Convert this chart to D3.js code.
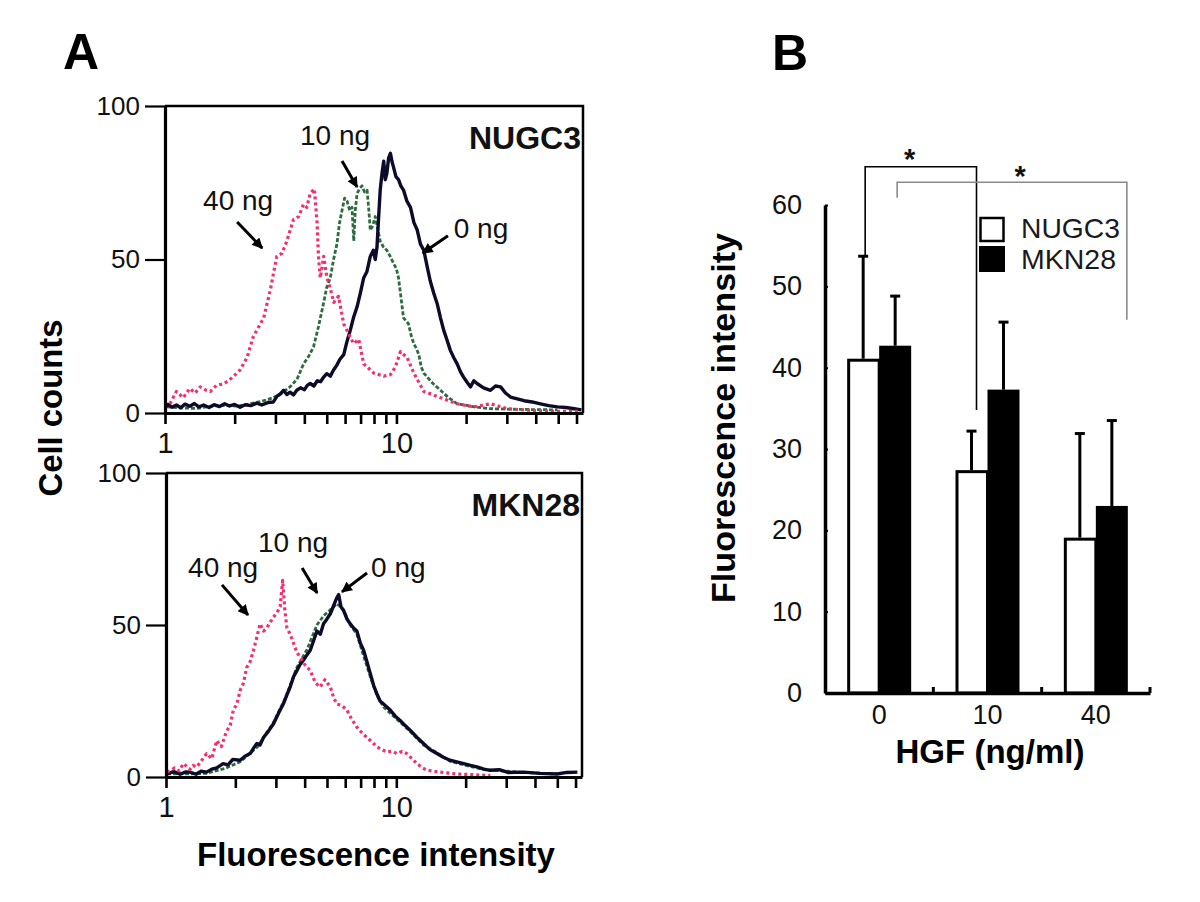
<!DOCTYPE html>
<html><head><meta charset="utf-8">
<script src="https://cdn.jsdelivr.net/npm/d3@7"></script>
<style>
body{margin:0;background:#fff}
svg{display:block}
text{font-family:"Liberation Sans",Arial,Helvetica,sans-serif}
</style>
</head><body>
<svg id="chart" width="1200" height="902"></svg>
<script>
// ---------------- DATA ----------------
// Panel A: flow-cytometry histograms, [fluorescence intensity, cell count]
const nugc3_0ng = [[1.00,2.0],[1.03,2.8],[1.07,1.9],[1.12,2.6],[1.17,1.7],[1.22,2.9],[1.28,2.2],[1.34,3.1],[1.40,2.0],[1.47,2.6],[1.55,1.8],[1.63,2.7],[1.72,2.1],[1.81,3.0],[1.90,2.3],[2.00,2.8],[2.11,1.9],[2.22,2.7],[2.35,2.4],[2.49,3.2],[2.62,2.6],[2.78,3.4],[2.94,3.6],[3.05,5.5],[3.15,6.2],[3.25,7.4],[3.36,6.0],[3.47,6.8],[3.59,5.9],[3.71,7.4],[3.85,8.2],[4.00,7.6],[4.12,9.0],[4.24,9.6],[4.40,8.8],[4.55,10.5],[4.70,10.2],[4.85,11.7],[5.00,12.8],[5.18,12.0],[5.35,14.0],[5.52,15.5],[5.70,17.5],[5.92,19.0],[6.10,23.0],[6.32,27.0],[6.52,31.0],[6.76,34.6],[6.98,39.0],[7.22,44.0],[7.45,46.0],[7.71,51.0],[7.95,53.0],[8.10,50.0],[8.24,54.0],[8.38,64.0],[8.51,72.6],[8.66,78.0],[8.81,82.0],[8.95,76.0],[9.09,78.0],[9.25,83.0],[9.42,84.6],[9.56,82.0],[9.72,80.0],[9.95,77.0],[10.21,76.0],[10.45,74.0],[10.73,72.6],[11.10,69.0],[11.50,67.0],[11.90,62.0],[12.30,59.6],[12.70,55.0],[13.13,53.0],[13.55,48.0],[14.00,43.0],[14.50,39.0],[15.00,35.6],[15.50,31.0],[16.00,27.0],[16.50,24.0],[17.10,20.4],[17.70,18.0],[18.30,16.0],[18.90,13.5],[19.50,11.7],[20.20,10.0],[20.90,8.5],[21.60,10.5],[22.30,9.6],[23.80,8.2],[25.50,7.4],[26.80,8.8],[28.20,8.5],[29.60,6.5],[31.10,5.2],[33.30,4.6],[35.60,4.0],[38.60,3.6],[41.90,3.0],[45.50,2.4],[49.60,2.0],[54.00,1.8],[58.60,1.4],[63.00,1.0]];
const nugc3_10ng = [[1.02,2.0],[1.20,1.6],[1.37,1.5],[1.58,2.2],[1.79,2.5],[2.05,2.2],[2.33,3.0],[2.62,3.8],[2.94,5.0],[3.20,6.5],[3.47,8.5],[3.72,11.0],[3.97,16.0],[4.18,18.5],[4.38,21.5],[4.60,28.0],[4.85,36.0],[5.00,41.0],[5.18,44.0],[5.35,50.0],[5.53,55.0],[5.68,62.0],[5.82,66.0],[5.97,70.0],[6.12,69.0],[6.28,66.0],[6.43,67.0],[6.54,56.0],[6.64,66.0],[6.76,71.5],[6.92,73.0],[7.10,74.0],[7.28,72.0],[7.47,72.6],[7.60,66.0],[7.71,59.5],[7.90,61.0],[8.10,64.0],[8.30,60.0],[8.51,56.0],[8.80,54.0],[9.09,53.0],[9.40,51.0],[9.72,48.7],[10.00,47.0],[10.21,44.0],[10.45,38.0],[10.73,31.0],[11.00,30.0],[11.28,29.0],[11.60,25.0],[11.89,22.6],[12.20,21.0],[12.50,19.0],[12.80,15.0],[13.13,13.0],[14.20,10.0],[15.50,7.4],[16.80,5.0],[18.30,3.0],[21.00,2.2],[25.50,1.4],[33.00,1.2],[49.60,1.0]];
const nugc3_40ng = [[1.05,3.0],[1.12,7.0],[1.20,5.0],[1.28,8.0],[1.35,6.5],[1.42,8.5],[1.50,7.5],[1.57,7.0],[1.67,9.0],[1.79,9.5],[1.88,10.5],[1.98,12.0],[2.11,14.0],[2.26,18.0],[2.41,25.0],[2.58,29.0],[2.67,31.0],[2.85,40.0],[3.04,51.0],[3.20,52.0],[3.36,56.0],[3.59,63.0],[3.78,64.0],[3.97,68.0],[4.10,67.0],[4.24,71.5],[4.42,73.0],[4.54,62.0],[4.61,50.0],[4.69,44.0],[4.85,51.0],[5.01,44.0],[5.20,40.0],[5.36,36.0],[5.62,38.0],[5.92,29.0],[6.20,26.0],[6.53,22.6],[6.87,24.0],[7.22,16.0],[7.60,14.5],[7.98,13.0],[8.40,12.5],[8.81,12.0],[9.42,12.5],[9.90,15.0],[10.41,20.0],[11.13,18.0],[11.89,13.0],[12.50,10.0],[13.13,7.0],[14.30,6.0],[15.50,5.0],[18.30,3.0],[21.60,2.0],[25.50,3.0],[30.10,1.4],[35.60,1.0],[49.60,0.5],[62.60,0.5]];

const mkn28_0ng = [[1.01,1.0],[1.08,1.8],[1.15,0.9],[1.22,1.7],[1.27,1.6],[1.35,0.9],[1.42,1.9],[1.50,1.6],[1.58,2.6],[1.66,3.0],[1.77,4.4],[1.86,4.0],[1.95,5.8],[2.10,5.5],[2.20,6.8],[2.32,7.7],[2.40,9.5],[2.48,11.0],[2.56,10.5],[2.65,13.0],[2.78,15.0],[2.93,17.5],[3.08,21.0],[3.23,24.0],[3.35,27.0],[3.46,29.6],[3.58,33.0],[3.70,35.0],[3.82,37.0],[3.95,38.4],[4.08,40.0],[4.23,41.7],[4.38,45.0],[4.52,48.0],[4.68,47.0],[4.83,50.4],[5.00,52.0],[5.17,53.7],[5.32,56.0],[5.45,58.0],[5.52,59.0],[5.62,60.0],[5.75,56.0],[5.90,54.8],[6.10,52.0],[6.31,50.4],[6.52,49.0],[6.74,48.0],[6.98,44.0],[7.21,41.7],[7.45,38.0],[7.71,34.0],[7.98,30.0],[8.23,27.4],[8.50,25.0],[8.80,24.0],[9.10,23.0],[9.41,22.0],[9.90,20.0],[10.39,18.6],[10.90,17.0],[11.48,15.4],[12.30,13.0],[13.13,11.0],[14.00,9.0],[15.00,7.7],[16.00,6.5],[17.10,5.5],[18.30,5.0],[19.60,4.4],[21.00,3.8],[22.40,3.3],[24.00,2.6],[25.60,2.2],[28.00,2.4],[30.50,1.5],[35.70,1.6],[42.00,1.2],[49.90,1.0],[55.00,1.5],[61.10,1.6]];
const mkn28_10ng = [[1.01,1.0],[1.20,1.0],[1.50,1.2],[1.80,2.8],[2.10,5.0],[2.50,10.0],[2.93,18.0],[3.30,26.0],[3.70,36.0],[4.10,42.0],[4.52,50.0],[4.83,53.0],[5.17,55.0],[5.52,57.0],[5.90,55.0],[6.30,50.0],[6.74,47.0],[7.20,40.0],[7.71,33.0],[8.23,27.0],[8.80,23.0],[9.41,21.0],[10.40,18.0],[11.48,15.0],[13.13,10.5],[15.00,8.0],[17.10,5.2],[19.60,4.0],[24.00,2.4],[35.70,1.5],[50.00,1.0]];
const mkn28_40ng = [[1.01,1.6],[1.05,2.2],[1.09,3.0],[1.14,2.0],[1.19,4.4],[1.23,3.5],[1.27,2.5],[1.31,3.8],[1.36,3.3],[1.43,5.5],[1.50,7.7],[1.58,6.0],[1.66,12.0],[1.74,10.0],[1.83,15.0],[1.90,17.0],[1.96,22.0],[2.03,24.0],[2.10,28.5],[2.17,31.0],[2.24,36.0],[2.32,38.0],[2.40,41.7],[2.48,46.0],[2.56,50.4],[2.65,48.0],[2.74,49.0],[2.84,51.0],[2.93,52.6],[3.03,54.0],[3.13,56.0],[3.21,64.7],[3.28,55.0],[3.35,49.0],[3.46,47.0],[3.58,44.0],[3.70,41.0],[3.82,39.5],[4.00,37.0],[4.23,35.0],[4.45,31.0],[4.67,29.6],[4.90,32.0],[5.17,29.6],[5.35,26.0],[5.52,24.0],[5.80,23.5],[6.10,22.0],[6.40,19.0],[6.74,16.4],[7.10,14.5],[7.45,13.0],[7.85,11.5],[8.23,9.9],[8.65,9.0],[9.10,8.2],[9.58,8.5],[10.06,7.7],[10.60,8.4],[11.12,7.7],[11.70,6.0],[12.29,4.4],[13.00,3.0],[13.58,2.2],[15.50,1.6],[18.30,1.0],[25.60,0.5]];

const yTicksA = [0, 50, 100];
const xTicksA = [1,2,3,4,5,6,7,8,9,10,20,30,40,50,60];
const xTickLabelsA = [1, 10];
const doseLabels = ["0 ng", "10 ng", "40 ng"];

// Panel B: mean fluorescence intensity + SD
const hgfCategories = ["0", "10", "40"];
const cellLines = ["NUGC3", "MKN28"];
const meanNUGC3 = [41.1, 27.4, 19.1];
const sdNUGC3   = [12.6, 4.8, 12.8];
const meanMKN28 = [42.7, 37.3, 23.0];
const sdMKN28   = [6.1, 8.3, 10.5];
const yTicksB = [0, 10, 20, 30, 40, 50, 60];

// ---------------- DRAW ----------------
const svg = d3.select("#chart");
const FONT = '"Liberation Sans", Arial, Helvetica, sans-serif';

const defs = svg.append("defs");
defs.append("marker").attr("id", "arrow")
  .attr("viewBox", "0 0 10 10").attr("refX", 9).attr("refY", 5)
  .attr("markerWidth", 4.2).attr("markerHeight", 3.6)
  .attr("orient", "auto").attr("markerUnits", "strokeWidth")
  .append("path").attr("d", "M0,0L10,5L0,10z").attr("fill", "#000");

const seriesStyle = {
  "0 ng":  {stroke: "#0c0c2a", width: 3.4, dash: null},
  "10 ng": {stroke: "#2e6b3e", width: 2.8, dash: "4 2"},
  "40 ng": {stroke: "#f2306e", width: 3.2, dash: "3 3"}
};

function histPanel(cfg, idx) {
  const x = d3.scaleLog().domain([1, 64]).range([cfg.x0, cfg.x1]);
  const y = d3.scaleLinear().domain([0, 100]).range([cfg.yb, cfg.yt]);
  const g = svg.append("g");
  const clipId = "clip" + idx;
  defs.append("clipPath").attr("id", clipId).append("rect")
    .attr("x", cfg.x0).attr("y", cfg.yt).attr("width", cfg.x1 - cfg.x0).attr("height", cfg.yb - cfg.yt);

  // frame (top + right)
  g.append("path")
    .attr("d", `M${cfg.x0},${cfg.yt}H${cfg.x1}V${cfg.yb}`)
    .attr("fill", "none").attr("stroke", "#000").attr("stroke-width", 2.5);

  const line = d3.line().x(d => x(d[0])).y(d => y(d[1]));
  const cg = g.append("g").attr("clip-path", `url(#${clipId})`);
  // draw order: 10 ng, 0 ng, 40 ng
  [["10 ng", cfg.series[1]], ["0 ng", cfg.series[0]], ["40 ng", cfg.series[2]]].forEach(([name, data]) => {
    const s = seriesStyle[name];
    cg.append("path").datum(data).attr("d", line)
      .attr("fill", "none").attr("stroke", s.stroke).attr("stroke-width", s.width)
      .attr("stroke-linejoin", "round")
      .attr("stroke-dasharray", s.dash);
  });

  // y axis
  const ya = g.append("g").attr("transform", `translate(${cfg.x0},0)`)
    .call(d3.axisLeft(y).tickValues(yTicksA).tickSize(20).tickSizeOuter(0).tickPadding(5));
  ya.select(".domain").attr("stroke-width", 3.2);
  ya.selectAll(".tick line").attr("stroke-width", 2.2);
  ya.selectAll("text").attr("font-family", FONT).attr("font-size", 26).attr("fill", "#111");

  // x axis
  const xa = g.append("g").attr("transform", `translate(0,${cfg.yb})`)
    .call(d3.axisBottom(x).tickValues(xTicksA).tickSize(11).tickSizeOuter(0)
      .tickFormat(d => xTickLabelsA.includes(d) ? String(d) : ""));
  xa.select(".domain").attr("stroke-width", 3.2);
  xa.selectAll(".tick line").attr("stroke-width", 2.6);
  xa.selectAll("text").attr("font-family", FONT).attr("font-size", 29).attr("fill", "#111")
    .attr("dy", 0).attr("y", 40);

  // cell line label
  g.append("text").attr("x", cfg.x1 - 2).attr("y", cfg.labelY)
    .attr("text-anchor", "end").attr("font-family", FONT).attr("font-weight", "bold")
    .attr("font-size", 32).attr("fill", "#111").text(cfg.label);

  // dose annotations
  cfg.ann.forEach(a => {
    g.append("text").attr("x", x(a.tx)).attr("y", y(a.ty)).attr("text-anchor", "middle")
      .attr("font-family", FONT).attr("font-size", 28).attr("fill", "#111").text(a.label);
    g.append("line").attr("x1", x(a.from[0])).attr("y1", y(a.from[1]))
      .attr("x2", x(a.to[0])).attr("y2", y(a.to[1]))
      .attr("stroke", "#000").attr("stroke-width", 3).attr("marker-end", "url(#arrow)");
  });
}

histPanel({
  x0: 165, x1: 583, yt: 106, yb: 413, label: "NUGC3", labelY: 149,
  series: [nugc3_0ng, nugc3_10ng, nugc3_40ng],
  ann: [
    {label: doseLabels[2], tx: 2.07, ty: 66.1, from: [2.05, 62.2], to: [2.63, 53.7]},
    {label: doseLabels[1], tx: 5.43, ty: 87.3, from: [5.82, 82.1], to: [6.76, 73.6]},
    {label: doseLabels[0], tx: 23.2, ty: 57.0, from: [16.7, 57.7], to: [13.0, 52.1]}
  ]
}, 0);

histPanel({
  x0: 166, x1: 582, yt: 473, yb: 777, label: "MKN28", labelY: 516,
  series: [mkn28_0ng, mkn28_10ng, mkn28_40ng],
  ann: [
    {label: doseLabels[2], tx: 1.77, ty: 65.8, from: [1.75, 63.2], to: [2.27, 53.3]},
    {label: doseLabels[1], tx: 3.56, ty: 74.0, from: [3.90, 68.75], to: [4.53, 60.5]},
    {label: doseLabels[0], tx: 10.2, ty: 65.8, from: [7.46, 67.1], to: [5.81, 60.9]}
  ]
}, 1);

// Panel A titles
svg.append("text").attr("x", 63).attr("y", 69).attr("font-family", FONT)
  .attr("font-weight", "bold").attr("font-size", 50).attr("fill", "#000").text("A");
svg.append("text").attr("transform", "translate(62,408) rotate(-90)").attr("text-anchor", "middle")
  .attr("font-family", FONT).attr("font-weight", "bold").attr("font-size", 33).attr("fill", "#000")
  .attr("textLength", 177).attr("lengthAdjust", "spacingAndGlyphs").text("Cell counts");
svg.append("text").attr("x", 197).attr("y", 866).attr("font-family", FONT)
  .attr("font-weight", "bold").attr("font-size", 33).attr("fill", "#000")
  .attr("textLength", 358).attr("lengthAdjust", "spacingAndGlyphs").text("Fluorescence intensity");

// ---------------- Panel B ----------------
const gB = svg.append("g");
const xB = d3.scaleBand().domain(hgfCategories).range([825, 1150]);
const xSub = d3.scaleBand().domain(cellLines).range([-32, 32]);
const yB = d3.scaleLinear().domain([0, 60]).range([693, 205]);

const barData = [];
hgfCategories.forEach((c, i) => {
  barData.push({cat: c, line: "NUGC3", mean: meanNUGC3[i], sd: sdNUGC3[i]});
  barData.push({cat: c, line: "MKN28", mean: meanMKN28[i], sd: sdMKN28[i]});
});
const barX = d => xB(d.cat) + xB.bandwidth() / 2 + xSub(d.line);
const barCx = d => barX(d) + xSub.bandwidth() / 2;

// error bars (upper only)
barData.forEach(d => {
  gB.append("line").attr("x1", barCx(d)).attr("x2", barCx(d))
    .attr("y1", yB(d.mean)).attr("y2", yB(d.mean + d.sd))
    .attr("stroke", "#000").attr("stroke-width", 3);
  gB.append("line").attr("x1", barCx(d) - 5).attr("x2", barCx(d) + 5)
    .attr("y1", yB(d.mean + d.sd)).attr("y2", yB(d.mean + d.sd))
    .attr("stroke", "#000").attr("stroke-width", 3);
});
// bars
gB.selectAll("rect.bar").data(barData).join("rect").attr("class", "bar")
  .attr("x", d => barX(d) + (d.line === "NUGC3" ? 1.5 : 0))
  .attr("y", d => yB(d.mean) + (d.line === "NUGC3" ? 1.5 : 0))
  .attr("width", d => xSub.bandwidth() - (d.line === "NUGC3" ? 1.5 : 0))
  .attr("height", d => yB(0) - yB(d.mean) - (d.line === "NUGC3" ? 1.5 : 0))
  .attr("fill", d => d.line === "NUGC3" ? "#fff" : "#000")
  .attr("stroke", "#000").attr("stroke-width", d => d.line === "NUGC3" ? 3 : 0);

// y axis B
const yaB = gB.append("g").attr("transform", "translate(825,0)")
  .call(d3.axisLeft(yB).tickValues(yTicksB).tickSize(-3).tickSizeOuter(0).tickPadding(23));
yaB.select(".domain").attr("stroke-width", 3.5);
yaB.selectAll(".tick line").attr("stroke-width", 2);
yaB.selectAll("text").attr("font-family", FONT).attr("font-size", 27).attr("fill", "#111");

// x axis B
const xaB = gB.append("g").attr("transform", "translate(0,693)")
  .call(d3.axisBottom(xB).tickSize(0).tickSizeOuter(0).tickPadding(12));
xaB.select(".domain").attr("stroke-width", 3.5);
xaB.selectAll("text").attr("font-family", FONT).attr("font-size", 27).attr("fill", "#111");
hgfCategories.forEach(c => {
  const bx = xB(c) + xB.bandwidth();
  gB.append("line").attr("x1", bx).attr("x2", bx).attr("y1", 693).attr("y2", 687)
    .attr("stroke", "#000").attr("stroke-width", 3);
});

// significance brackets
const findBar = (c, l) => barData.find(d => d.cat === c && d.line === l);
const brackets = [
  {a: findBar("0", "NUGC3"), b: findBar("10", "NUGC3"), top: 64.7, aEnd: 53.8, bEnd: 34.8, color: "#000", star: 0.40, starLevel: 66.5, bShift: 5},
  {a: findBar("0", "MKN28"), b: findBar("40", "MKN28"), top: 62.8, aEnd: 60.9, bEnd: 45.9, color: "#8a8a8a", star: 0.535, starLevel: 64.4, bShift: 15}
];
brackets.forEach(br => {
  const xa = barCx(br.a) + 2, xb2 = barCx(br.b) + br.bShift;
  gB.append("path")
    .attr("d", `M${xa},${yB(br.aEnd)}V${yB(br.top)}H${xb2}V${yB(br.bEnd)}`)
    .attr("fill", "none").attr("stroke", br.color).attr("stroke-width", 1.6);
  gB.append("text").attr("x", xa + (xb2 - xa) * br.star)
    .attr("y", yB(br.starLevel) + 17).attr("text-anchor", "middle")
    .attr("font-family", FONT).attr("font-weight", "bold").attr("font-size", 29).attr("fill", "#111").text("*");
});

// legend
const legend = gB.append("g");
cellLines.forEach((l, i) => {
  legend.append("rect").attr("x", l === "NUGC3" ? 980.5 : 979).attr("y", i === 0 ? 218 : 246)
    .attr("width", l === "NUGC3" ? 23 : 26).attr("height", l === "NUGC3" ? 23 : 26)
    .attr("fill", l === "NUGC3" ? "#fff" : "#000").attr("stroke", "#000")
    .attr("stroke-width", l === "NUGC3" ? 2.5 : 0);
  legend.append("text").attr("x", 1021).attr("y", i === 0 ? 238 : 269)
    .attr("font-family", FONT).attr("font-size", 28).attr("fill", "#1a1a1a")
    .attr("textLength", i === 0 ? 99 : 95).attr("lengthAdjust", "spacingAndGlyphs").text(l);
});

// Panel B titles
svg.append("text").attr("x", 772).attr("y", 70).attr("font-family", FONT)
  .attr("font-weight", "bold").attr("font-size", 50).attr("fill", "#000").text("B");
svg.append("text").attr("transform", "translate(735,418) rotate(-90)").attr("text-anchor", "middle")
  .attr("font-family", FONT).attr("font-weight", "bold").attr("font-size", 34).attr("fill", "#000")
  .attr("textLength", 370).attr("lengthAdjust", "spacingAndGlyphs").text("Fluorescence intensity");
svg.append("text").attr("x", 990).attr("y", 763).attr("text-anchor", "middle").attr("font-family", FONT)
  .attr("font-weight", "bold").attr("font-size", 33).attr("fill", "#000")
  .attr("textLength", 189).attr("lengthAdjust", "spacingAndGlyphs").text("HGF (ng/ml)");
</script>
</body></html>
